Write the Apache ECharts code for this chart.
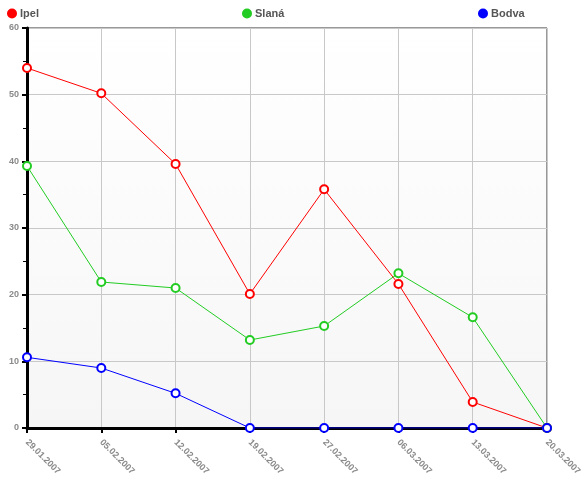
<!DOCTYPE html>
<html><head><meta charset="utf-8">
<script src="https://cdn.jsdelivr.net/npm/echarts@6/dist/echarts.min.js"></script>
<style>html,body{margin:0;padding:0;background:#fff}#c{width:588px;height:487px}</style>
</head><body><div id="c"></div>
<script>
const categories = ['29.01.2007','05.02.2007','12.02.2007','19.02.2007','27.02.2007','06.03.2007','13.03.2007','20.03.2007'];
const ipel = [54.0, 50.2, 39.6, 20.1, 35.8, 21.6, 3.9, 0];
const slana = [39.3, 21.9, 21.0, 13.2, 15.3, 23.2, 16.6, 0];
const bodva = [10.6, 9.0, 5.2, 0, 0, 0, 0, 0];
const yTicks = [0, 10, 20, 30, 40, 50, 60];

const chart = echarts.init(document.getElementById('c'));
const legendText = {color:'#555', fontSize:11, fontWeight:'bold', fontFamily:'Arial, Liberation Sans, sans-serif', padding:[0,0,0,-2]};
function mkSeries(name, data, color){
  return {name, type:'line', data, symbol:'emptyCircle', symbolSize:8,
    lineStyle:{color, width:1}, itemStyle:{color, borderWidth:1},
    emphasis:{disabled:true}, animation:false, z:3};
}
chart.setOption({
  animation:false,
  legend:[
    {data:['Ipel'], left:7, top:8, padding:0, icon:'circle', itemWidth:10, itemHeight:10, itemStyle:{color:'#ff0000', borderWidth:0}, textStyle:legendText},
    {data:['Slaná'], left:242, top:8, padding:0, icon:'circle', itemWidth:10, itemHeight:10, itemStyle:{color:'#22cc22', borderWidth:0}, textStyle:legendText},
    {data:['Bodva'], left:478, top:8, padding:0, icon:'circle', itemWidth:10, itemHeight:10, itemStyle:{color:'#0000ff', borderWidth:0}, textStyle:legendText}
  ],
  grid:{left:27, right:41, top:28, bottom:59, show:true, borderColor:'#333', borderWidth:1,
    backgroundColor:new echarts.graphic.LinearGradient(0,0,0,1,[{offset:0,color:'#ffffff'},{offset:1,color:'#f6f6f6'}])},
  xAxis:{type:'category', data:categories, boundaryGap:false,
    axisLine:{lineStyle:{color:'#000', width:3}},
    axisTick:{show:true, alignWithLabel:true, length:5, lineStyle:{color:'#000', width:2}},
    splitLine:{show:true, lineStyle:{color:'#c8c8c8', width:1}},
    axisLabel:{rotate:-45, color:'#8a8a8a', fontSize:9, fontWeight:'bold', margin:13, fontFamily:'Arial, Liberation Sans, sans-serif'}},
  yAxis:{type:'value', min:yTicks[0], max:yTicks[yTicks.length-1], interval:10,
    axisLine:{show:true, lineStyle:{color:'#000', width:3}},
    axisTick:{show:true, length:5, lineStyle:{color:'#000', width:2}},
    minorTick:{show:true, splitNumber:2, length:4, lineStyle:{color:'#000', width:1}},
    splitLine:{show:true, lineStyle:{color:'#c8c8c8', width:1}},
    axisLabel:{color:'#8a8a8a', fontSize:9, fontWeight:'bold', margin:8, fontFamily:'Arial, Liberation Sans, sans-serif'}},
  series:[mkSeries('Ipel', ipel, '#ff0000'), mkSeries('Slaná', slana, '#22cc22'), mkSeries('Bodva', bodva, '#0000ff')]
});
</script></body></html>
